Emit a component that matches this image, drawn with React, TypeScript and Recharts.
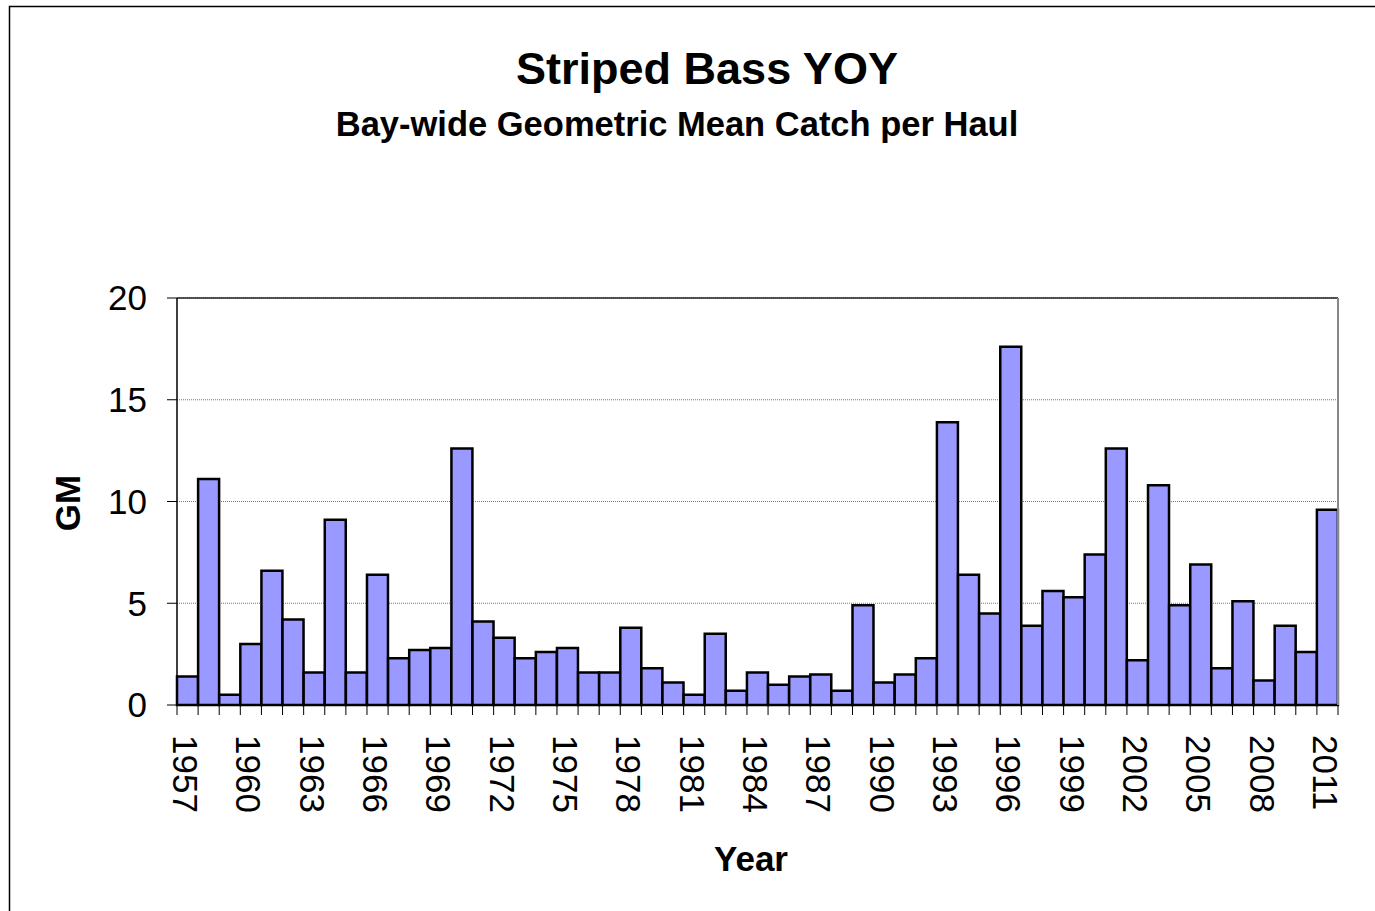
import React from 'react';
import { BarChart, Bar, XAxis, YAxis, CartesianGrid, ReferenceLine } from 'recharts';

const years = [
  1957, 1958, 1959, 1960, 1961, 1962, 1963, 1964, 1965, 1966, 1967,
  1968, 1969, 1970, 1971, 1972, 1973, 1974, 1975, 1976, 1977, 1978,
  1979, 1980, 1981, 1982, 1983, 1984, 1985, 1986, 1987, 1988, 1989,
  1990, 1991, 1992, 1993, 1994, 1995, 1996, 1997, 1998, 1999, 2000,
  2001, 2002, 2003, 2004, 2005, 2006, 2007, 2008, 2009, 2010, 2011,
];

const gm = [
  1.4, 11.1, 0.5, 3.0, 6.6, 4.2, 1.6, 9.1, 1.6, 6.4, 2.3,
  2.7, 2.8, 12.6, 4.1, 3.3, 2.3, 2.6, 2.8, 1.6, 1.6, 3.8,
  1.8, 1.1, 0.5, 3.5, 0.7, 1.6, 1.0, 1.4, 1.5, 0.7, 4.9,
  1.1, 1.5, 2.3, 13.9, 6.4, 4.5, 17.6, 3.9, 5.6, 5.3, 7.4,
  12.6, 2.2, 10.8, 4.9, 6.9, 1.8, 5.1, 1.2, 3.9, 2.6, 9.6,
];

const yTicks = [0, 5, 10, 15, 20];

const data = years.map((year, i) => ({ year, gm: gm[i] }));

const W = 1375;
const H = 911;
const PLOT_LEFT = 177;
const PLOT_RIGHT = 1338;
const PLOT_TOP = 298;
const PLOT_BOTTOM = 705;
const BAND = (PLOT_RIGHT - PLOT_LEFT) / years.length;
const FONT = '"Liberation Sans", Arial, sans-serif';

// Excel-style category tick: mark between bars, label every third year, rotated
function YearTick(props: any) {
  const { x, y, payload, index } = props;
  const i = payload?.index ?? index;
  const last = i === years.length - 1;
  return (
    <g>
      <line x1={x - BAND / 2} x2={x - BAND / 2} y1={y} y2={y + 10} stroke="#000" strokeWidth={1} />
      {last && <line x1={x + BAND / 2} x2={x + BAND / 2} y1={y} y2={y + 10} stroke="#000" strokeWidth={1} />}
      {i % 3 === 0 && (
        <text
          transform={`translate(${x - 2}, ${y + 30}) rotate(90)`}
          textAnchor="start"
          dominantBaseline="central"
          fontSize={35}
          fontFamily={FONT}
          fill="#000"
        >
          {payload.value}
        </text>
      )}
    </g>
  );
}

export default function App() {
  return (
    <div style={{ position: 'relative', width: W, height: H, background: '#fff' }}>
      <style>{'body{margin:0}'}</style>
      <BarChart
        width={W}
        height={H}
        data={data}
        barCategoryGap={0}
        margin={{ top: PLOT_TOP, right: W - PLOT_RIGHT, bottom: 0, left: 0 }}
      >
        <CartesianGrid vertical={false} stroke="#777" strokeDasharray="1 1" yAxisId="left" />
        <XAxis
          dataKey="year"
          interval={0}
          height={H - PLOT_BOTTOM}
          tickLine={false}
          tickSize={0}
          tickMargin={0}
          axisLine={{ stroke: '#000', strokeWidth: 1.5 }}
          tick={<YearTick />}
        />
        <YAxis
          yAxisId="left"
          width={PLOT_LEFT}
          domain={[0, 20]}
          ticks={yTicks}
          tickSize={10}
          tickMargin={20}
          tickLine={{ stroke: '#000' }}
          axisLine={{ stroke: '#000', strokeWidth: 1.5 }}
          tick={{ fill: '#000', fontSize: 35, fontFamily: FONT }}
        />
        <ReferenceLine yAxisId="left" y={20} stroke="#222" strokeWidth={1.5} />
        <Bar
          yAxisId="left"
          dataKey="gm"
          fill="#9999FF"
          stroke="#000"
          strokeWidth={2.5}
          isAnimationActive={false}
        />
      </BarChart>
      <svg
        width={W}
        height={H}
        style={{ position: 'absolute', left: 0, top: 0, pointerEvents: 'none' }}
        fontFamily={FONT}
      >
        <rect x={9.5} y={6.5} width={1400} height={1000} fill="none" stroke="#000" strokeWidth={1.5} />
        {/* right edge of the plot area */}
        <line x1={PLOT_RIGHT} x2={PLOT_RIGHT} y1={PLOT_TOP} y2={PLOT_BOTTOM} stroke="#888" strokeWidth={2} />
        <text x={707} y={84} textAnchor="middle" fontSize={45} fontWeight="bold">
          Striped Bass YOY
        </text>
        <text x={677} y={136} textAnchor="middle" fontSize={34.5} fontWeight="bold">
          Bay-wide Geometric Mean Catch per Haul
        </text>
        <text x={751} y={871} textAnchor="middle" fontSize={35} fontWeight="bold">
          Year
        </text>
        <text transform="translate(80, 503) rotate(-90)" textAnchor="middle" fontSize={35} fontWeight="bold">
          GM
        </text>
      </svg>
    </div>
  );
}
